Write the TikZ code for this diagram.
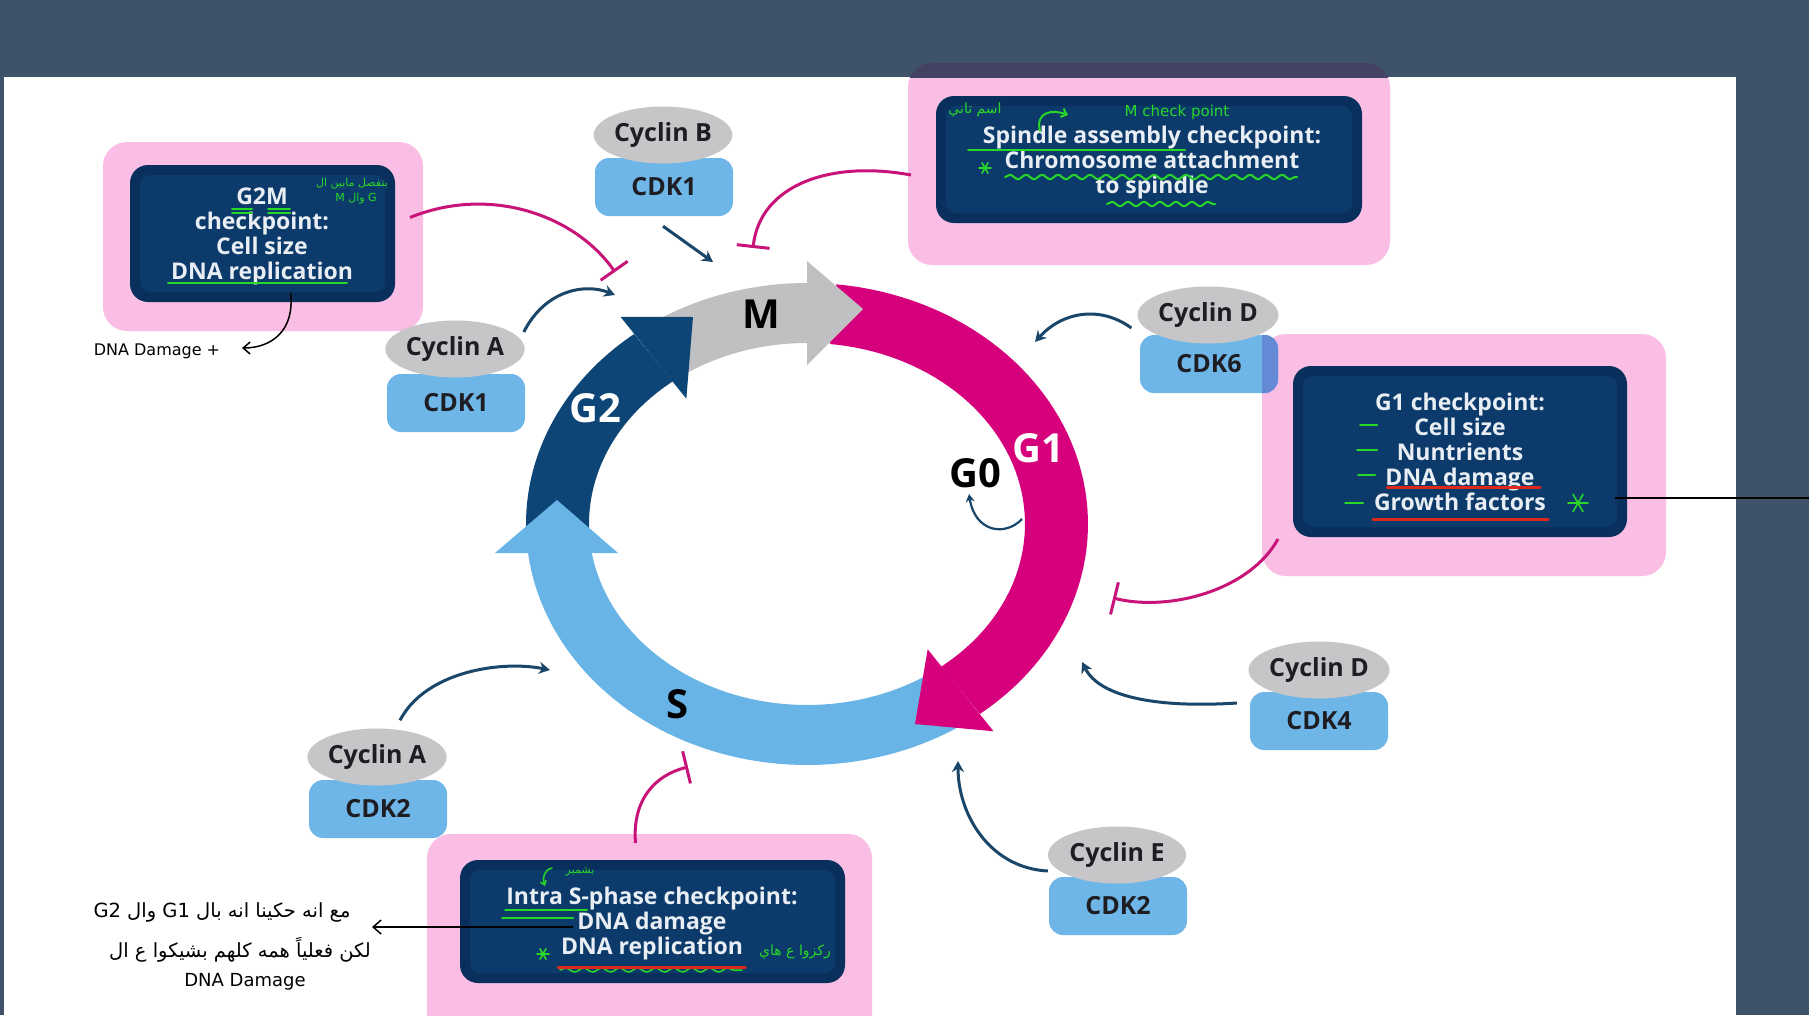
\documentclass[tikz,border=0pt]{standalone}
\usepackage{fontspec}
\setmainfont{Open Sans}
\newfontfamily\arabicfont[Script=Arabic]{DejaVu Sans}
\newfontfamily\handfont{DejaVu Sans}
\usetikzlibrary{shapes.geometric,arrows.meta,calc,decorations.pathmorphing}
\TeXXeTstate=1
\definecolor{bgdark}{RGB}{62,83,106}
\definecolor{pinkc}{RGB}{250,190,228}
\definecolor{toppink}{RGB}{68,66,98}
\definecolor{navy}{RGB}{9,48,92}
\definecolor{navyin}{RGB}{12,58,106}
\definecolor{boxtxt}{RGB}{232,238,244}
\definecolor{ringmag}{RGB}{214,0,125}
\definecolor{ringgray}{RGB}{192,192,194}
\definecolor{ringdb}{RGB}{13,70,118}
\definecolor{ringlb}{RGB}{105,180,230}
\definecolor{cycgray}{RGB}{198,198,200}
\definecolor{cdkblue}{RGB}{110,182,232}
\definecolor{cdkover}{RGB}{100,138,214}
\definecolor{txtdark}{RGB}{30,30,34}
\definecolor{actc}{RGB}{25,70,105}
\definecolor{inhc}{RGB}{200,20,120}
\definecolor{grn}{RGB}{40,215,40}
\definecolor{redu}{RGB}{222,40,28}
\newcommand{\ringband}[3]{\fill[#1] plot[domain=#2:#3,samples=60] ({807+281*cos(\x)},{524-241*sin(\x)}) -- plot[domain=#3:#2,samples=60] ({807+218*cos(\x)},{524-181*sin(\x)}) -- cycle;}
\newcommand{\ringhead}[4]{\fill[#1] ({807+303*cos(#2)},{524-263*sin(#2)}) -- (#3,#4) -- ({807+196*cos(#2)},{524-159*sin(#2)}) -- cycle;}
\newcommand{\greenstar}[3]{\draw[grn,line width=1.6pt,line cap=round] (#1,#2) +(-#3,0) -- +(#3,0) +({-0.5*#3},{-0.87*#3}) -- +({0.5*#3},{0.87*#3}) +({-0.5*#3},{0.87*#3}) -- +({0.5*#3},{-0.87*#3});}
\begin{document}
\begin{tikzpicture}[x=1pt,y=-1pt,
  pinkbox/.style={fill=pinkc,rounded corners=24pt,inner sep=0pt,outer sep=0pt},
  navybox/.style={fill=navy,rounded corners=18pt,inner sep=0pt,outer sep=0pt},
  navyinner/.style={fill=navyin,rounded corners=10pt,inner sep=0pt,outer sep=0pt},
  boxtext/.style={text=boxtxt,align=center,font=\fontsize{23}{25}\selectfont\bfseries},
  cyc/.style={ellipse,fill=cycgray,minimum width=138pt,minimum height=57pt,inner sep=0pt,text=txtdark,font=\fontsize{25}{27}\selectfont\bfseries},
  cdk/.style={rectangle,rounded corners=14pt,fill=cdkblue,minimum width=138pt,minimum height=58pt,inner sep=0pt,text=txtdark,font=\fontsize{25}{27}\selectfont\bfseries},
  act/.style={draw=actc,line width=3pt,-{Stealth[length=11pt,width=12pt]}},
  inh/.style={draw=inhc,line width=3pt,-{Bar[width=33pt,line width=3pt]}},
  pen/.style={draw=black,line width=1.5pt},
  grnline/.style={draw=grn,line width=2pt,line cap=round},
  redline/.style={draw=redu,line width=3pt,line cap=round},
  ringlabel/.style={font=\fontsize{40}{44}\selectfont\bfseries,inner sep=0pt},
  hand/.style={font=\handfont\fontsize{16}{19}\selectfont,inner sep=0pt}
]
\useasboundingbox (0,0) rectangle (1809,1015);
\fill[bgdark] (0,0) rectangle (1809,1015);
\fill[white] (4,77) rectangle (1736,1015);

% pink and navy boxes
\node[pinkbox,minimum width=320pt,minimum height=189pt] (pG2M) at (263,236.5) {};
\node[pinkbox,minimum width=482pt,minimum height=202pt] (pSp) at (1149,164) {};
\node[pinkbox,minimum width=404pt,minimum height=242pt] (pG1) at (1464,455) {};
\node[pinkbox,minimum width=445pt,minimum height=206pt] (pS) at (649.5,937) {};
\node[navybox,minimum width=265pt,minimum height=137pt] (nG2M) at (262.5,233.5) {};
\node[navyinner,minimum width=245pt,minimum height=117pt] (nG2Mi) at (262.5,233.5) {};
\node[navybox,minimum width=426pt,minimum height=127pt] (nSp) at (1149,159.5) {};
\node[navyinner,minimum width=406pt,minimum height=107pt] (nSpi) at (1149,159.5) {};
\node[navybox,minimum width=334pt,minimum height=171pt] (nG1) at (1460,451.5) {};
\node[navyinner,minimum width=314pt,minimum height=151pt] (nG1i) at (1460,451.5) {};
\node[navybox,minimum width=385pt,minimum height=123pt] (nS) at (652.5,921.5) {};
\node[navyinner,minimum width=365pt,minimum height=103pt] (nSi) at (652.5,921.5) {};

% top dark band over the spindle box
\fill[bgdark] (0,0) rectangle (1809,77);
\begin{scope}
\clip (0,0) rectangle (1809,77);
\fill[toppink,rounded corners=24pt] (pSp.south west) rectangle (pSp.north east);
\end{scope}

% cell cycle ring
\ringband{ringgray}{126}{90}
\ringband{ringmag}{84}{-52}
\ringband{ringlb}{-56}{-173}
\ringband{ringdb}{184}{128}
\ringhead{ringgray}{90}{863}{309}
\ringhead{ringmag}{-52}{915}{724}
\fill[ringlb] (495,553) -- (557,500) -- (618,553) -- cycle;
\ringhead{ringdb}{128}{693}{317}
\node[ringlabel,text=black] (lM) at (761,314) {M};
\node[ringlabel,text=white] (lG2) at (595,408) {G2};
\node[ringlabel,text=white] (lG1) at (1038,448) {G1};
\node[ringlabel,text=black] (lG0) at (975,473) {G0};
\node[ringlabel,text=black] (lS) at (678,704) {S};

% cyclin / CDK complexes
\node[cdk] (cdkB) at (664,187) {CDK1};
\node[cyc] (cycB) at (663,135) {Cyclin B};
\node[cdk] (cdkA1) at (456,403) {CDK1};
\node[cyc] (cycA1) at (455,349) {Cyclin A};
\node[cdk] (cdk6) at (1209,364) {CDK6};
\begin{scope}
\clip (pG1.south west) rectangle (pG1.north east);
\fill[cdkover,rounded corners=14pt] (cdk6.south west) rectangle (cdk6.north east);
\end{scope}
\node[cyc] (cycD6) at (1208,315) {Cyclin D};
\node[cdk] (cdk4) at (1319,721) {CDK4};
\node[cyc] (cycD4) at (1319,670) {Cyclin D};
\node[cdk] (cdkE) at (1118,906) {CDK2};
\node[cyc] (cycE) at (1117,855) {Cyclin E};
\node[cdk] (cdkA2) at (378,809) {CDK2};
\node[cyc] (cycA2) at (377,757) {Cyclin A};

% target points on the ring
\coordinate (tB) at (713,262);
\coordinate (tA1) at (615,295);
\coordinate (tD6) at (1035,342);
\coordinate (tD4) at (1082,662);
\coordinate (tE) at (958,761);
\coordinate (tA2) at (550,670);
\coordinate (g0s) at (1022,519);
\coordinate (g0e) at (969,494);
\coordinate (iM1) at (615,272);
\coordinate (iM2) at (753,248);
\coordinate (iG1) at (1113,598);
\coordinate (iS) at (688,767);

% activation arrows
\draw[act] ($(cdkB.south)+(-1,10)$) -- (tB);
\draw[act] ($(cycA1.east)+(-1,-17)$) .. controls (545,290) and (585,283) .. (tA1);
\draw[act] ($(cycD6.west)+(-6,13)$) .. controls (1100,305) and (1062,312) .. (tD6);
\draw[act] ($(cdk4.west)+(-13,-18)$) .. controls (1160,708) and (1100,698) .. (tD4);
\draw[act] ($(cycE.west)+(0,16)$) .. controls (990,868) and (958,815) .. (tE);
\draw[act] ($(cycA2.north)+(23,-8)$) .. controls (425,672) and (500,660) .. (tA2);
\draw[draw=actc,line width=2.2pt,-{Stealth[length=8pt,width=9pt]}] (g0s) .. controls (1005,537) and (975,532) .. (g0e);

% inhibition arrows
\draw[inh] ($(pG2M.east)+(-13,-19)$) .. controls (490,185) and (575,215) .. (iM1);
\draw[inh] ($(pSp.west)+(3,11)$) .. controls (830,160) and (760,185) .. (iM2);
\draw[inh] ($(pG1.south west)+(16,-37)$) .. controls (1250,590) and (1170,612) .. (iG1);
\draw[inh] ($(pS.north)+(-14,9)$) .. controls (632,800) and (655,775) .. (iS);

% box texts
\node[boxtext] (tG2M) at (262,236) {G2M\\checkpoint:\\Cell size\\DNA replication};
\node[boxtext] (tSp) at (1152,163) {Spindle assembly checkpoint:\\Chromosome attachment\\to spindle};
\node[boxtext] (tG1) at (1460,452) {G1 checkpoint:\\Cell size\\Nuntrients\\DNA damage\\Growth factors};
\node[boxtext] (tS) at (652,924) {Intra S-phase checkpoint:\\DNA damage\\DNA replication};

% annotations: G2M box
\draw[grnline] (232,209) -- (252,209) (232,213) -- (252,213) (268,209) -- (290,209) (268,213) -- (290,213);
\draw[grnline] (168,283) -- (347,283);
\node[text=grn,font=\arabicfont\fontsize{11}{13}\selectfont,inner sep=0pt] (arG2a) at (352,184) {\beginR بتفصل مابين ال\endR};
\node[text=grn,font=\arabicfont\fontsize{11}{13}\selectfont,inner sep=0pt] (arG2b) at (356,199) {\beginR \beginL G\endL{} وال \beginL M\endL\endR};
\node[hand] (dmg) at (157,351) {DNA Damage +};
\coordinate (dmgTip) at (242,348);
\draw[pen,-{Straight Barb[length=7pt,width=12pt]}] ($(nG2M.south)+(28,-9)$) .. controls (295,330) and (272,348) .. (dmgTip);

% annotations: spindle box
\node[text=grn,font=\arabicfont\fontsize{14}{16}\selectfont,inner sep=0pt] (arSp) at (975,110) {\beginR اسم تاني\endR};
\node[text=grn,font=\handfont\fontsize{15}{17}\selectfont,inner sep=0pt] (mcp) at (1177,112) {M check point};
\draw[grnline,-{Straight Barb[length=5pt,width=9pt]}] (1040,131) .. controls (1035,112) and (1052,109) .. (1068,115);
\draw[grnline] (968,150) -- (1185,150);
\draw[grnline,decorate,decoration={snake,amplitude=2.2pt,segment length=16pt}] (1005,177) -- (1297,177);
\draw[grnline,decorate,decoration={snake,amplitude=2.2pt,segment length=16pt}] (1107,204) -- (1215,204);
\greenstar{985}{168}{6}

% annotations: G1 box
\draw[grnline] (1360,425) -- (1377,425) (1357,450) -- (1377,450) (1358,475) -- (1375,475) (1345,503) -- (1363,503);
\draw[redline] (1387,487) -- (1540,487);
\draw[redline] (1373,519) -- (1548,519);
\greenstar{1578}{503}{10}
\coordinate (edgeR) at (1809,498);
\draw[pen] ($(nG1.east)+(-12,46.5)$) -- (edgeR);

% annotations: intra S box
\draw[grnline] (505,910) -- (587,910) (502,918) -- (573,918);
\greenstar{543}{954}{6}
\draw[grnline,line width=1.5pt,decorate,decoration={snake,amplitude=2pt,segment length=18pt}] (560,970) -- (742,970);
\draw[redline] (558,967) -- (745,967);
\node[text=grn,font=\arabicfont\fontsize{14}{16}\selectfont,inner sep=0pt] (arS1) at (795,952) {\beginR ركزوا ع هاي\endR};
\node[text=grn,font=\arabicfont\fontsize{11}{13}\selectfont,inner sep=0pt] (arS2) at (580,872) {\beginR بشمير\endR};
\draw[grnline,line width=1.5pt,-{Straight Barb[length=4pt,width=6pt]}] (552,868) .. controls (544,870) and (542,878) .. (545,886);

% black Arabic note on the left
\node[font=\arabicfont\fontsize{19.5}{22}\selectfont,inner sep=0pt] (ar1) at (222,912) {\beginR مع انه حكينا انه بال \beginL G1\endL{} وال \beginL G2\endL\endR};
\node[font=\arabicfont\fontsize{19.5}{22}\selectfont,inner sep=0pt] (ar2) at (240,950) {\beginR لكن فعلياً همه كلهم بشيكوا ع ال\endR};
\node[hand,font=\handfont\fontsize{18}{20}\selectfont] (ar3) at (245,982) {DNA Damage};
\coordinate (noteTip) at (372,927);
\draw[pen,-{Straight Barb[length=8pt,width=14pt]}] ($(nS.west)+(113,5.5)$) -- (noteTip);
\end{tikzpicture}
\end{document}
